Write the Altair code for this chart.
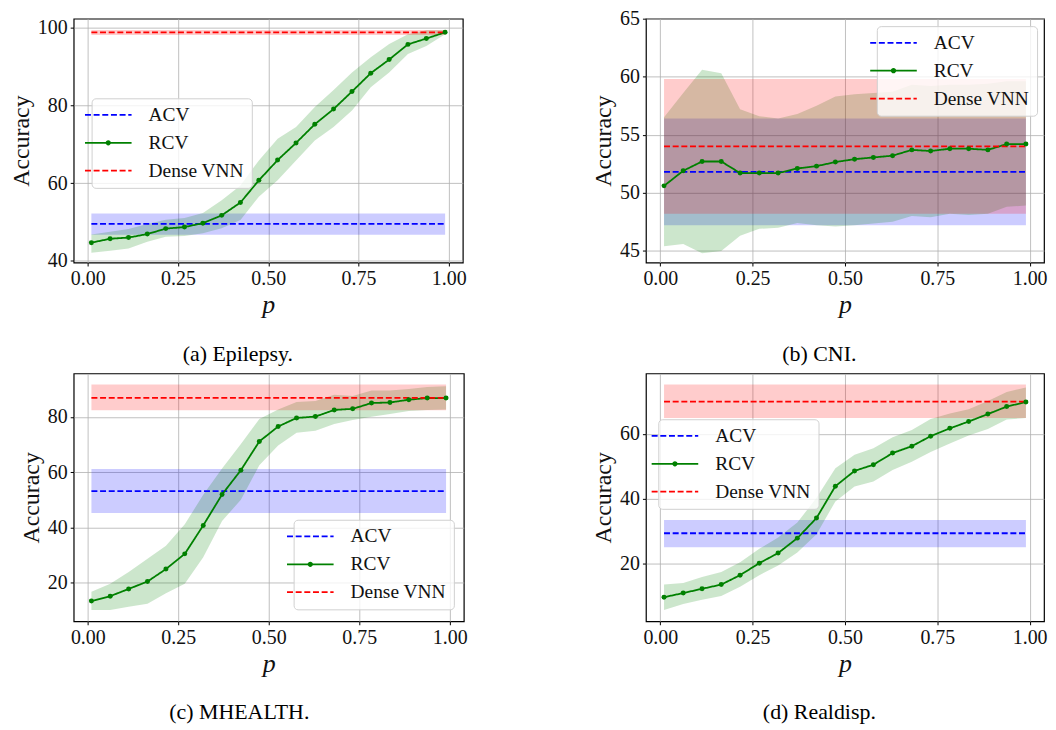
import altair as alt
import pandas as pd

FONT = "Liberation Serif"

P = [0.010, 0.062, 0.113, 0.165, 0.216, 0.268, 0.319, 0.371, 0.423, 0.474,
     0.526, 0.577, 0.629, 0.681, 0.732, 0.784, 0.835, 0.887, 0.938, 0.990]
SERIES = ["ACV", "RCV", "Dense VNN"]
COLORS = ["#0000ff", "#008000", "#ff0000"]
DOT_DOMAIN = ["RCV", "ACV", "Dense VNN"]
DOT_FILL = ["#008000", "transparent", "transparent"]
DASHES = [[6, 2.7], [1, 0], [6, 2.7]]
X_TICKS = [0.0, 0.25, 0.5, 0.75, 1.0]

# (a) Epilepsy
EPI_RCV = [44.7, 45.7, 46.0, 46.9, 48.3, 48.7, 49.7, 51.7, 55.0, 60.7,
           65.9, 70.3, 75.1, 79.0, 83.5, 88.2, 91.7, 95.6, 97.1, 98.7]
EPI_RCV_LO = [42.1, 42.6, 43.2, 44.9, 46.2, 46.4, 47.1, 48.4, 50.5, 56.5,
              60.7, 65.8, 70.9, 74.4, 78.6, 84.6, 88.4, 93.1, 95.2, 98.2]
EPI_RCV_HI = [46.8, 47.5, 48.2, 49.5, 50.6, 51.0, 52.3, 55.6, 59.4, 65.8,
              71.4, 74.4, 79.5, 83.9, 88.4, 92.3, 95.7, 98.2, 99.2, 99.2]
EPI_ACV = [49.5, 46.7, 52.2]      # mean, low, high
EPI_DENSE = [98.7, 98.0, 99.3]

# (b) CNI
CNI_RCV = [50.6, 51.9, 52.7, 52.7, 51.7, 51.7, 51.7, 52.1, 52.3, 52.65,
           52.9, 53.05, 53.2, 53.7, 53.6, 53.8, 53.8, 53.7, 54.2, 54.2]
CNI_RCV_LO = [45.4, 45.6, 44.8, 45.0, 46.3, 46.9, 47.0, 47.4, 47.2, 47.1,
              47.2, 47.35, 47.5, 48.0, 47.9, 48.2, 48.1, 48.2, 48.8, 48.9]
CNI_RCV_HI = [56.5, 58.6, 60.6, 60.3, 57.2, 56.6, 56.4, 56.8, 57.5, 58.3,
              58.5, 58.6, 58.7, 59.3, 59.2, 59.3, 59.3, 59.4, 59.6, 59.6]
CNI_ACV = [51.8, 47.2, 56.4]
CNI_DENSE = [54.0, 48.2, 59.8]

# (c) MHEALTH
MH_RCV = [13.3, 15.1, 17.7, 20.4, 24.9, 30.4, 40.7, 51.9, 60.7, 71.1,
          76.5, 79.6, 80.1, 82.5, 82.9, 85.0, 85.2, 86.2, 86.8, 86.8]
MH_RCV_LO = [10.1, 10.1, 11.3, 12.3, 16.1, 19.6, 29.2, 42.3, 50.0, 62.5,
             69.6, 74.2, 75.0, 77.4, 78.9, 80.0, 81.0, 82.1, 82.5, 82.7]
MH_RCV_HI = [16.7, 19.6, 23.8, 28.6, 33.3, 41.1, 51.8, 61.3, 70.2, 79.2,
             82.7, 85.4, 85.7, 88.0, 87.5, 89.5, 89.5, 90.1, 90.8, 91.1]
MH_ACV = [53.1, 45.2, 61.1]
MH_DENSE = [86.9, 82.4, 91.7]

# (d) Realdisp
RD_RCV = [9.7, 11.0, 12.3, 13.6, 16.5, 20.2, 23.3, 27.9, 34.1, 43.9,
          48.6, 50.5, 54.1, 56.2, 59.3, 61.7, 63.8, 66.1, 68.4, 69.8]
RD_RCV_LO = [5.8, 7.6, 8.9, 10.1, 12.9, 16.5, 19.5, 23.5, 29.1, 39.2,
             43.8, 45.3, 48.9, 51.4, 54.4, 57.0, 59.5, 61.5, 64.4, 64.9]
RD_RCV_HI = [13.6, 14.1, 15.9, 17.5, 20.5, 24.6, 28.1, 32.7, 40.3, 49.4,
             53.6, 55.6, 59.0, 61.2, 64.6, 66.3, 67.6, 70.1, 72.9, 74.3]
RD_ACV = [29.4, 25.1, 33.5]
RD_DENSE = [69.9, 64.9, 75.2]

# legend symbols: a long stroke (all entries) and a dot drawn over it (RCV only)
LINE_SYMBOL = "M-4,0H4"
DOT_SYMBOL = "M-4,0H4M0.45,0A0.45,0.45,0,1,1,-0.45,0A0.45,0.45,0,1,1,0.45,0Z"


def legend_pair(x, y):
    common = dict(title=None, orient="none", legendX=x, legendY=y, values=SERIES,
                  labelFont=FONT, labelFontSize=19.5, labelOffset=30.7,
                  symbolSize=137, symbolStrokeWidth=1.8,
                  padding=7, rowPadding=7)
    lines = alt.Legend(symbolType=LINE_SYMBOL, labelColor="#111111", cornerRadius=4,
                       strokeColor="#d0d0d0", fillColor="rgba(255,255,255,0.8)", zindex=0, **common)
    dots = alt.Legend(symbolType=DOT_SYMBOL, labelColor="transparent", symbolStrokeColor="transparent",
                      strokeColor="transparent", fillColor="transparent", zindex=1, **common)
    return lines, dots


def make_panel(rcv, rcv_lo, rcv_hi, acv, dense, ydomain, yticks, width, height, caption, legpos,
               caption_dx=0):
    line_rows, band_rows = [], []
    for i, x in enumerate(P):
        vals = {"ACV": (acv[0], acv[1], acv[2]),
                "RCV": (rcv[i], rcv_lo[i], rcv_hi[i]),
                "Dense VNN": (dense[0], dense[1], dense[2])}
        for s in SERIES:
            m, lo, hi = vals[s]
            line_rows.append({"p": x, "series": s, "value": m})
            band_rows.append({"p": x, "series": s, "lo": lo, "hi": hi})
    line_df = pd.DataFrame(line_rows)
    band_df = pd.DataFrame(band_rows)
    leg_lines, leg_dots = legend_pair(*legpos)

    x_enc = alt.X("p:Q", scale=alt.Scale(domain=[-0.039, 1.039], nice=False, zero=False),
                  axis=alt.Axis(values=X_TICKS, format=".2f", title="p", titleFontStyle="italic",
                                titleFontSize=26, titlePadding=3, labelPadding=3))
    y_scale = alt.Scale(domain=ydomain, nice=False, zero=False)
    y_axis = alt.Axis(values=yticks, format="d", title="Accuracy", titleFontSize=24, titlePadding=4)
    y_val = alt.Y("value:Q", scale=y_scale, axis=y_axis)

    layers = []
    for s, c in zip(SERIES, COLORS):
        layers.append(
            alt.Chart(band_df).transform_filter(alt.datum.series == s)
            .mark_area(color=c, opacity=0.2)
            .encode(x=x_enc, y=alt.Y("lo:Q", scale=y_scale, axis=y_axis), y2="hi:Q")
        )
    layers.append(
        alt.Chart(line_df).mark_line(strokeWidth=1.8).encode(
            x=x_enc, y=y_val,
            color=alt.Color("series:N", scale=alt.Scale(domain=SERIES, range=COLORS), legend=leg_lines),
            strokeDash=alt.StrokeDash("series:N", scale=alt.Scale(domain=SERIES, range=DASHES), legend=leg_lines),
            order="p:Q",
        )
    )
    layers.append(
        alt.Chart(line_df).transform_filter(alt.datum.series == "RCV")
        .mark_circle(size=25, opacity=1)
        .encode(x=x_enc, y=y_val,
                fill=alt.Fill("series:N", scale=alt.Scale(domain=DOT_DOMAIN, range=DOT_FILL), legend=leg_dots))
    )
    return alt.layer(*layers).properties(
        width=width, height=height,
        title=alt.Title(caption, orient="bottom", anchor="middle", frame="bounds", offset=26,
                        dx=caption_dx, font=FONT, fontSize=22, fontWeight="normal", color="black"),
    )


pa = make_panel(EPI_RCV, EPI_RCV_LO, EPI_RCV_HI, EPI_ACV, EPI_DENSE, [39.6, 102.2], [40, 60, 80, 100],
                391, 245, "(a) Epilepsy.", (18, 80))
pb = make_panel(CNI_RCV, CNI_RCV_LO, CNI_RCV_HI, CNI_ACV, CNI_DENSE, [44.0, 65.0], [45, 50, 55, 60, 65],
                400, 245, "(b) CNI.", (232, 7.5))
pc = make_panel(MH_RCV, MH_RCV_LO, MH_RCV_HI, MH_ACV, MH_DENSE, [6.0, 95.7], [20, 40, 60, 80],
                392, 249, "(c) MHEALTH.", (221, 147), caption_dx=-4)
pd_ = make_panel(RD_RCV, RD_RCV_LO, RD_RCV_HI, RD_ACV, RD_DENSE, [2.3, 78.6], [20, 40, 60],
                 400, 249, "(d) Realdisp.", (12.4, 46))

INDEP = dict(color="independent", fill="independent", strokeDash="independent")

col1 = alt.concat(pa, pc, columns=1, align="none", spacing=6.5).resolve_scale(**INDEP)
col2 = alt.vconcat(pb, pd_, spacing=6.5).resolve_scale(**INDEP)

chart = alt.hconcat(col1, col2, spacing=123).resolve_scale(**INDEP).properties(
    padding={"left": 0, "top": -2, "right": 0, "bottom": 0}
).configure_view(stroke="black", strokeWidth=1.2).configure_axis(
    domain=False, grid=True, gridColor="#b0b0b0", gridWidth=1, gridOpacity=0.8,
    tickColor="black", tickSize=3.5, tickWidth=1,
    labelFont=FONT, labelFontSize=20, labelColor="#111111", labelPadding=3,
    labelFlush=False, labelOverlap=False,
    titleFont=FONT, titleFontWeight="normal", titleColor="#111111",
)

chart.save("out.html", embed_options={"renderer": "svg", "actions": False})
